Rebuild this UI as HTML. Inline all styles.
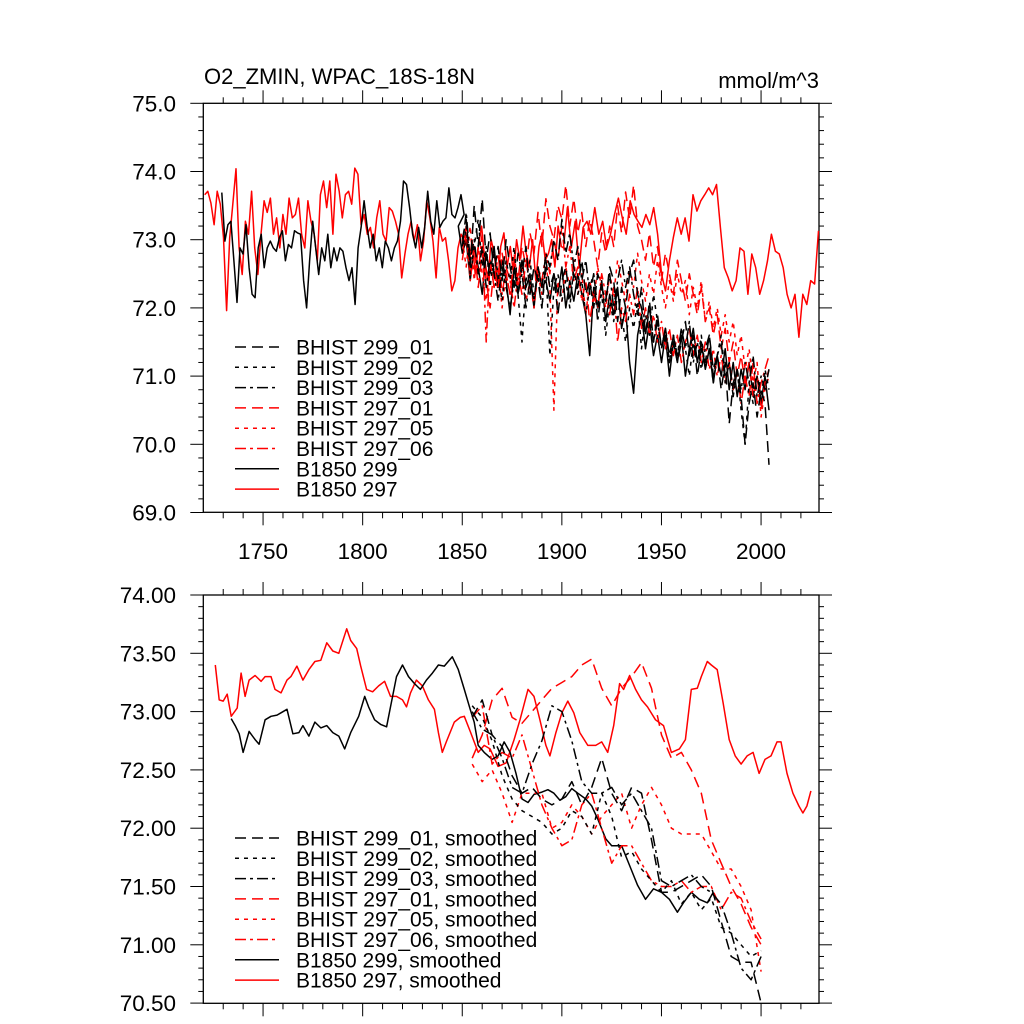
<!DOCTYPE html>
<html><head><meta charset="utf-8"><style>
html,body{margin:0;padding:0;background:#fff;}
svg{display:block;font-family:"Liberation Sans",sans-serif;}
</style></head><body>
<svg id="chart" width="1024" height="1024" viewBox="0 0 1024 1024" xmlns="http://www.w3.org/2000/svg">
<g id="top"></g>
<g id="bot"></g>
</svg>
<script>
// ---------- data ----------
const xTicks = [1750, 1800, 1850, 1900, 1950, 2000];
const topYTicks = [69, 70, 71, 72, 73, 74, 75];
const botYTicks = [70.5, 71, 71.5, 72, 72.5, 73, 73.5, 74];

// B1850 297 raw (three segments)
const b297SegA = [73.66,73.71,73.54,73.22,73.71,73.52,73.03,71.96,73.03,73.52,74.04,72.88,72.49,73.27,73.08,73.71,72.88,72.49,73.08,73.57,73.40,73.61,73.08,73.32,72.88,73.37,73.08,73.61,73.32,73.37,73.61,73.08,72.88,73.57,73.27,73.08,72.69,73.66,73.86,73.47,73.86,73.08,73.96,73.71,73.32,73.66,73.71,73.52,74.05,73.96,73.22,73.37,73.08,73.18,72.88,73.32,73.57,73.08,72.98,73.47,73.42,73.27,73.08,72.44,72.79,73.08,73.27,72.98,73.22,72.69,72.98,73.57,73.32,72.98,72.44,73.18,72.98,73.03,72.69,72.25,72.40,72.88,73.08,72.98,72.88,72.79];
const b297SegB = [72.6,73.0,72.5,72.9,73.2,72.7,72.4,73.0,72.8,72.3,72.9,73.1,72.6,72.9,72.5,73.0,72.7,73.2,72.8,72.6,73.0,72.4,72.9,73.1,72.7,72.8,73.0,72.6,73.2,72.9];
const b297SegC = [72.88,73.47,72.88,73.27,72.59,73.18,73.27,73.08,73.47,73.08,73.27,72.88,73.08,73.37,73.61,73.32,73.08,73.57,73.37,73.27,73.18,73.37,73.22,73.47,73.08,72.49,72.25,72.69,73.03,73.32,73.08,73.32,72.98,73.66,73.42,73.57,73.66,73.76,73.66,73.81,73.18,72.59,72.44,72.25,72.40,72.88,72.83,72.20,72.79,72.59,72.20,72.40,72.69,73.08,72.83,72.79,72.59,72.20,72.00,72.20,71.57,72.20,72.05,72.40,72.35,73.13];
// B1850 299 raw
const b299SegA = [73.69,72.98,73.22,73.27,72.69,72.08,72.88,72.79,73.22,72.59,72.20,72.15,72.88,73.08,72.59,72.88,72.98,72.88,72.83,73.03,73.13,72.69,72.93,72.88,73.13,73.10,73.08,72.40,72.00,72.69,73.27,72.88,72.49,72.88,72.69,73.08,72.59,72.88,72.69,72.88,72.83,72.59,72.40,72.59,72.05,72.88,73.18,73.57,73.18,72.88,73.08,72.69,72.88,72.59,72.98,72.88,72.69,72.88,72.98,73.27,73.86,73.81,73.47,73.08,72.88,73.18,72.88,73.18,73.71,73.27,73.08,73.57,73.18,73.27,73.32,73.76,73.37,73.32,73.47,73.66,73.37];
const b299SegB = [73.2,72.8,73.0,72.4,72.9,72.6,72.2,72.8,72.5,72.9,72.3,72.7,72.4,71.9,72.6,72.2,72.7,72.3,72.5,72.0,72.6,72.3,72.4,72.1,72.5,72.2,72.6,72.0,72.4,72.1,72.5,72.2,71.9,71.3,72.3,72.0,72.4,71.8,72.2,71.9,72.3,71.7,72.0,71.2,70.75,71.6,71.9,71.4,71.8,71.3,71.6,71.2,71.6,71.0,71.5,71.2,71.6,71.0,71.4,71.7,71.2,71.5,71.1,71.4,70.9,71.3,71.0,71.4,70.8,71.2,70.7,71.1,70.8,71.2,70.7,71.0,70.6,71.0,70.5];
// BHIST raw, 1850..2004 every 2 years
const h29901 = [73.0,73.3,72.6,73.5,72.9,73.6,72.7,73.1,72.5,72.9,72.4,73.0,72.6,72.3,72.8,72.5,72.9,72.2,72.6,72.4,72.0,72.7,72.3,72.5,71.9,72.4,72.6,72.1,72.5,72.3,72.7,72.2,72.4,72.0,72.5,72.3,72.1,72.6,72.4,71.8,72.3,72.0,72.5,72.7,72.2,72.0,71.6,72.1,71.5,71.9,71.4,71.7,71.3,71.6,71.2,71.5,71.8,71.3,71.6,71.0,71.4,71.2,71.6,71.1,71.3,70.8,71.2,70.3,70.9,71.1,70.7,70.0,70.6,70.9,70.4,70.8,70.6,69.7];
const h29902 = [72.8,73.2,72.5,72.9,73.3,72.6,72.9,72.3,72.8,72.5,72.1,72.7,72.4,72.9,72.2,71.5,72.4,72.7,72.2,72.5,72.0,72.6,71.3,72.3,72.5,72.1,72.4,72.0,72.6,72.2,72.4,71.9,72.3,72.5,72.0,72.2,71.6,72.1,71.8,72.2,71.9,71.5,72.0,71.7,72.1,71.4,71.9,71.6,72.2,71.8,71.4,71.7,71.2,71.6,71.3,71.7,71.4,71.0,71.5,71.2,71.6,71.1,71.4,70.9,71.3,71.6,71.0,71.2,70.8,71.1,70.5,70.0,70.9,70.6,71.0,70.7,71.1,70.8];
const h29903 = [72.9,73.4,72.7,73.0,72.5,72.9,72.3,72.7,72.5,72.1,72.6,72.3,72.0,72.4,72.2,72.5,72.0,72.4,72.1,72.6,72.3,72.8,72.6,73.0,72.7,73.3,72.8,73.1,72.6,72.9,72.4,72.7,72.2,72.5,71.8,72.3,72.1,72.5,72.0,72.4,72.7,72.3,72.6,72.2,71.9,72.3,71.6,72.0,71.5,71.8,71.4,71.7,71.2,71.6,71.3,71.7,71.4,71.8,71.2,71.5,71.1,71.4,71.6,71.0,71.3,71.5,70.9,71.2,70.7,71.1,70.8,71.2,70.9,71.3,70.7,71.0,70.8,71.1];
const h29701 = [72.7,73.1,72.5,72.9,72.3,72.8,72.4,72.0,72.6,72.3,72.8,72.5,72.2,72.7,72.4,72.9,72.6,73.1,72.8,73.4,72.9,73.6,73.2,73.0,73.5,73.3,73.8,73.2,73.6,73.1,73.4,72.9,73.3,73.0,72.6,73.1,72.8,73.2,72.9,73.5,73.1,73.7,73.3,73.8,73.2,73.0,72.7,73.1,72.6,72.9,72.4,72.8,72.5,72.2,72.7,72.4,72.1,72.5,72.2,71.9,72.3,71.8,72.0,71.6,71.9,71.4,71.7,71.2,71.5,71.0,71.3,70.9,71.2,70.7,71.0,70.5,70.9,71.1];
const h29705 = [73.0,72.6,73.2,72.4,72.9,72.5,72.1,72.7,72.3,72.6,72.0,72.5,72.2,72.8,72.3,72.6,72.1,72.4,72.0,72.5,72.2,72.6,72.3,70.5,72.4,72.1,72.6,72.3,72.7,72.2,72.5,71.9,72.4,72.1,72.6,72.3,72.0,72.5,72.2,72.7,72.4,72.1,72.6,72.3,72.8,72.4,72.1,72.5,72.2,72.7,72.3,72.0,72.4,72.1,72.5,72.2,72.4,71.9,72.3,72.0,72.4,71.8,72.1,71.7,72.0,71.6,71.9,71.5,71.8,71.3,71.6,71.1,71.4,70.9,71.2,70.4,70.8,71.0];
const h29706 = [72.8,73.2,72.4,72.9,72.5,73.1,71.5,72.7,72.3,72.8,72.2,72.6,72.4,72.0,72.5,72.2,72.7,72.3,72.1,72.6,72.4,72.8,72.5,73.0,72.7,73.2,72.6,72.9,72.4,72.6,72.1,72.4,71.8,72.2,72.0,72.5,72.2,71.9,72.3,71.5,72.0,71.8,72.2,71.9,72.3,71.7,72.0,71.6,71.9,71.5,71.8,71.4,71.7,71.3,71.6,71.2,71.5,71.7,71.3,71.6,71.2,71.5,71.1,71.4,71.0,71.3,70.9,71.2,70.8,71.1,70.6,71.0,70.7,71.2,70.6,70.9,71.1,71.3];

// smoothed B1850 series
const s297Years = [1726,1728,1730,1732,1734,1737,1739,1741,1743,1746,1749,1751,1754,1756,1759,1762,1764,1767,1770,1773,1776,1779,1782,1785,1788,1792,1794,1797,1799,1802,1805,1808,1811,1814,1817,1820,1822,1824,1827,1830,1833,1836,1838,1840,1842,1846,1849,1851,1854,1856,1858,1861,1864,1868,1872,1876,1879,1883,1886,1889,1892,1894,1897,1900,1903,1906,1909,1913,1917,1920,1923,1926,1929,1931,1934,1937,1940,1943,1947,1951,1955,1959,1962,1965,1968,1970,1973,1975,1978,1981,1984,1987,1990,1993,1996,1999,2002,2005,2008,2010,2013,2016,2019,2021,2023,2025];
const s297Vals = [73.40,73.10,73.09,73.15,72.96,73.03,73.33,73.13,73.27,73.31,73.26,73.30,73.30,73.19,73.16,73.27,73.30,73.39,73.27,73.36,73.43,73.44,73.59,73.52,73.50,73.71,73.61,73.54,73.39,73.19,73.17,73.22,73.26,73.13,73.13,73.10,73.04,73.16,73.27,73.22,73.10,73.02,72.82,72.65,72.74,72.91,72.95,72.96,72.83,72.74,72.65,72.71,72.68,72.53,72.56,72.76,72.93,73.19,73.13,72.93,72.71,72.62,72.82,72.99,73.09,72.99,72.82,72.71,72.71,72.74,72.65,72.88,73.24,73.19,73.31,73.19,73.10,73.04,72.93,72.88,72.65,72.68,72.76,73.19,73.20,73.30,73.43,73.40,73.36,73.07,72.76,72.62,72.55,72.62,72.65,72.47,72.59,72.62,72.74,72.74,72.47,72.30,72.19,72.13,72.19,72.32];
const s299Years = [1734,1736,1738,1740,1743,1746,1748,1751,1754,1757,1759,1762,1765,1768,1770,1773,1776,1779,1782,1785,1788,1791,1794,1798,1801,1803,1806,1809,1812,1814,1817,1820,1823,1826,1829,1832,1835,1838,1841,1845,1848,1851,1854,1856,1858,1861,1865,1868,1871,1874,1877,1880,1883,1886,1890,1893,1896,1899,1902,1905,1908,1912,1915,1918,1922,1925,1930,1934,1938,1942,1946,1950,1954,1958,1961,1965,1969,1973,1976];
const s299Vals = [72.94,72.88,72.81,72.65,72.83,72.76,72.72,72.93,72.96,72.97,72.99,73.02,72.81,72.82,72.88,72.79,72.91,72.86,72.88,72.82,72.79,72.68,72.82,72.96,73.13,73.04,72.93,72.89,72.87,73.04,73.30,73.40,73.30,73.24,73.19,73.27,73.33,73.40,73.39,73.47,73.36,73.19,73.02,72.91,72.71,72.65,72.59,72.62,72.74,72.65,72.47,72.25,72.22,72.29,72.31,72.33,72.30,72.24,72.27,72.34,72.30,72.25,72.19,72.08,71.91,71.85,71.85,71.68,71.51,71.39,71.48,71.45,71.39,71.28,71.36,71.45,71.39,71.36,71.45];
// smoothed BHIST, 1855..2000 every 5 years
const sm29901 = [72.95,73.1,72.8,72.7,72.45,72.3,72.35,72.25,72.2,72.25,72.4,72.2,72.35,72.6,72.3,72.15,72.35,72.3,71.9,71.45,71.45,71.5,71.55,71.6,71.5,71.2,70.9,70.85,70.85,70.5];
const sm29902 = [73.05,72.95,72.75,72.45,72.25,72.15,72.1,72.05,71.95,72.0,72.15,72.1,71.95,72.3,72.1,71.75,71.8,71.65,71.55,71.45,71.55,71.35,71.45,71.3,71.4,71.15,71.1,71.0,70.9,70.95];
const sm29903 = [73.0,72.85,72.8,72.6,72.35,72.3,72.55,72.75,73.05,73.0,72.75,72.4,72.3,72.3,72.35,72.2,72.3,72.15,72.0,71.55,71.5,71.55,71.6,71.5,71.45,71.35,71.1,70.8,70.7,70.9];
const sm29701 = [72.6,72.8,73.1,73.2,72.95,72.9,73.0,73.1,73.2,73.25,73.3,73.4,73.45,73.2,73.05,73.2,73.3,73.42,73.2,72.8,72.6,72.65,72.5,72.3,71.9,71.7,71.5,71.35,71.15,71.0];
const sm29705 = [72.55,72.4,72.5,72.3,72.05,72.3,72.3,72.3,72.0,72.05,72.2,72.1,71.95,72.1,72.2,72.3,72.0,72.2,72.35,72.2,72.0,71.95,71.95,71.95,71.8,71.65,71.65,71.5,71.3,70.77];
const sm29706 = [72.95,73.05,72.55,72.65,72.6,72.8,72.5,72.2,72.0,71.85,71.9,72.2,72.3,72.0,71.7,71.85,71.85,71.7,71.55,71.5,71.5,71.55,71.45,71.5,71.5,71.3,71.45,71.4,71.2,71.05];

// ---------- axes ----------
const X0 = 203.3, PXY = 1.992, YR0 = 1720;
function xs(y) { return X0 + (y - YR0) * PXY; }
function ysTop(v) { return 103.3 + (75 - v) * 68.2; }
function ysBot(v) { return 595 + (74 - v) * 116.6; }
function seq(start, step, n) { const a = []; for (let i = 0; i < n; i++) a.push(start + i * step); return a; }

const NS = "http://www.w3.org/2000/svg";
function mk(tag, attrs, parent) {
  const e = document.createElementNS(NS, tag);
  for (const k in attrs) e.setAttribute(k, attrs[k]);
  parent.appendChild(e);
  return e;
}
function drawLine(parent, years, vals, ys, color, dash, name) {
  let d = "";
  for (let i = 0; i < vals.length; i++) d += (i ? "L" : "M") + xs(years[i]).toFixed(1) + "," + ys(vals[i]).toFixed(1);
  const p = mk("path", { d: d, fill: "none", stroke: color, "stroke-width": 1.5, "stroke-linejoin": "round" }, parent);
  if (dash) p.setAttribute("stroke-dasharray", dash);
  
  
}

const DASH = "11,6", DOT = "4,5", DASHDOT = "11,4,3,4";

function frame(g, top, bot, yTicks, ys, fmt, minorStep, panel) {
  const L = 203.3, R = 819;
  const r = mk("rect", { x: L, y: top, width: R - L, height: bot - top, fill: "none", stroke: "#000", "stroke-width": 1.3 }, g);
  
  
  for (let yr = 1730; yr <= 2020; yr += 10) {
    const x = xs(yr), major = (yr % 50 === 0), len = major ? 13 : 6;
    const t1 = mk("line", { x1: x, y1: top, x2: x, y2: top - len, stroke: "#000", "stroke-width": 1 }, g);
    
    
    const t2 = mk("line", { x1: x, y1: bot, x2: x, y2: bot + len, stroke: "#000", "stroke-width": 1 }, g);
    
    
  }
  const vmin = yTicks[0], vmax = yTicks[yTicks.length - 1];
  const n = Math.round((vmax - vmin) / minorStep);
  for (let i = 0; i <= n; i++) {
    const v = vmin + i * minorStep, y = ys(v);
    const major = yTicks.some(t => Math.abs(t - v) < 1e-6), len = major ? 13 : 5;
    const a = mk("line", { x1: L, y1: y, x2: L - len, y2: y, stroke: "#000", "stroke-width": 1 }, g);
    
    
    const b = mk("line", { x1: R, y1: y, x2: R + len, y2: y, stroke: "#000", "stroke-width": 1 }, g);
    
    
  }
  yTicks.forEach(v => {
    const t = mk("text", { x: 176, y: ys(v) + 8, "text-anchor": "end", "font-size": 22.5 }, g);
    t.textContent = fmt(v);
    
    
  });
}
function legend(g, entries, y0, dy) {
  entries.forEach((e, i) => {
    const y = y0 + i * dy;
    const l = mk("line", { x1: 235, y1: y, x2: 279, y2: y, stroke: e[1], "stroke-width": 1.5 }, g);
    if (e[2]) l.setAttribute("stroke-dasharray", e[2]);
    
    
    const t = mk("text", { x: 296, y: y + 7.5, "font-size": 21 }, g);
    t.textContent = e[0];
    
    
  });
}

// ---------- top panel ----------
const gT = document.getElementById("top");
const title = mk("text", { x: 204, y: 84, "font-size": 22 }, gT);
title.textContent = "O2_ZMIN, WPAC_18S-18N";


const units = mk("text", { x: 819, y: 88, "font-size": 22, "text-anchor": "end" }, gT);
units.textContent = "mmol/m^3";


frame(gT, 103.3, 512.3, topYTicks, ysTop, v => v.toFixed(1), 0.2, 'top');
xTicks.forEach(yr => {
  const t = mk("text", { x: xs(yr), y: 559, "text-anchor": "middle", "font-size": 22.5 }, gT);
  t.textContent = yr;
  
  
});
const hYears = seq(1850, 2, 78);
const y297 = seq(1720.7, 1.57, b297SegA.length).concat(seq(1853.3, 1.6, b297SegB.length), seq(1900.8, 1.97, b297SegC.length));
const v297 = b297SegA.concat(b297SegB, b297SegC);
const y299 = seq(1729.3, 1.52, b299SegA.length).concat(seq(1848, 2, b299SegB.length));
const v299 = b299SegA.concat(b299SegB);
drawLine(gT, y297, v297, ysTop, "#ff0000", null, "b1850-297-line");
drawLine(gT, y299, v299, ysTop, "#000", null, "b1850-299-line");
drawLine(gT, hYears, h29701, ysTop, "#ff0000", DASH, "bhist-297-01-line");
drawLine(gT, hYears, h29705, ysTop, "#ff0000", DOT, "bhist-297-05-line");
drawLine(gT, hYears, h29706, ysTop, "#ff0000", DASHDOT, "bhist-297-06-line");
drawLine(gT, hYears, h29901, ysTop, "#000", DASH, "bhist-299-01-line");
drawLine(gT, hYears, h29902, ysTop, "#000", DOT, "bhist-299-02-line");
drawLine(gT, hYears, h29903, ysTop, "#000", DASHDOT, "bhist-299-03-line");
legend(gT, [["BHIST 299_01", "#000", DASH], ["BHIST 299_02", "#000", DOT], ["BHIST 299_03", "#000", DASHDOT],
  ["BHIST 297_01", "#ff0000", DASH], ["BHIST 297_05", "#ff0000", DOT], ["BHIST 297_06", "#ff0000", DASHDOT],
  ["B1850 299", "#000", null], ["B1850 297", "#ff0000", null]], 347, 20.3);

// ---------- bottom panel ----------
const gB = document.getElementById("bot");
frame(gB, 595, 1003.3, botYTicks, ysBot, v => v.toFixed(2), 0.1, 'bottom');
const sYears = seq(1855, 5, 30);
drawLine(gB, s297Years, s297Vals, ysBot, "#ff0000", null, "b1850-297-smoothed-line");
drawLine(gB, s299Years, s299Vals, ysBot, "#000", null, "b1850-299-smoothed-line");
drawLine(gB, sYears, sm29701, ysBot, "#ff0000", DASH, "bhist-297-01-smoothed-line");
drawLine(gB, sYears, sm29705, ysBot, "#ff0000", DOT, "bhist-297-05-smoothed-line");
drawLine(gB, sYears, sm29706, ysBot, "#ff0000", DASHDOT, "bhist-297-06-smoothed-line");
drawLine(gB, sYears, sm29901, ysBot, "#000", DASH, "bhist-299-01-smoothed-line");
drawLine(gB, sYears, sm29902, ysBot, "#000", DOT, "bhist-299-02-smoothed-line");
drawLine(gB, sYears, sm29903, ysBot, "#000", DASHDOT, "bhist-299-03-smoothed-line");
legend(gB, [["BHIST 299_01, smoothed", "#000", DASH], ["BHIST 299_02, smoothed", "#000", DOT], ["BHIST 299_03, smoothed", "#000", DASHDOT],
  ["BHIST 297_01, smoothed", "#ff0000", DASH], ["BHIST 297_05, smoothed", "#ff0000", DOT], ["BHIST 297_06, smoothed", "#ff0000", DASHDOT],
  ["B1850 299, smoothed", "#000", null], ["B1850 297, smoothed", "#ff0000", null]], 838, 20.3);
</script>
</body></html>
